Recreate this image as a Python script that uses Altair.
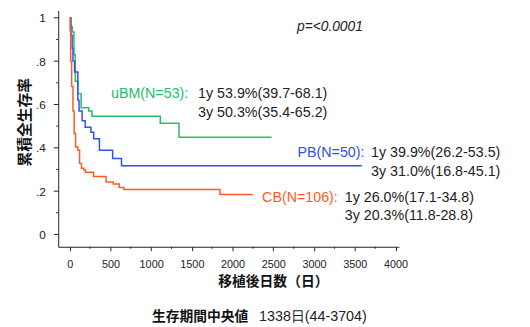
import altair as alt
import pandas as pd

# ---------------- data ----------------
groups = ["uBM", "PB", "CB"]
colors = ["#26bd6c", "#2f50f0", "#ff5a26"]

ubm_days = [0, 12, 31, 52, 68, 100, 140, 233, 273, 1112, 1342, 2479]
ubm_surv = [1.0, 0.96, 0.934, 0.83, 0.707, 0.65, 0.585, 0.57, 0.546, 0.513, 0.449, 0.449]

pb_days = [0, 15, 30, 40, 60, 100, 115, 152, 190, 260, 295, 365, 527, 636, 3586]
pb_surv = [1.0, 0.92, 0.86, 0.80, 0.75, 0.62, 0.57, 0.525, 0.495, 0.472, 0.442, 0.389, 0.351, 0.317, 0.317]

cb_days = [0, 5, 12, 24, 40, 55, 72, 100, 121, 145, 173, 193, 293, 447, 535, 608, 665, 1845, 2249]
cb_surv = [1.0, 0.94, 0.80, 0.684, 0.57, 0.466, 0.404, 0.389, 0.328, 0.305, 0.298, 0.287, 0.267,
           0.242, 0.233, 0.217, 0.207, 0.184, 0.184]

x_ticks = [0, 500, 1000, 1500, 2000, 2500, 3000, 3500, 4000]
x_minor = [250, 750, 1250, 1750, 2250, 2750, 3250, 3750]
y_ticks = [0, 0.2, 0.4, 0.6, 0.8, 1.0]
y_minor = [0.1, 0.3, 0.5, 0.7, 0.9]

group_labels = ["uBM(N=53):", "PB(N=50):", "CB(N=106):"]
year1_text = ["1y 53.9%(39.7-68.1)", "1y 39.9%(26.2-53.5)", "1y 26.0%(17.1-34.8)"]
year3_text = ["3y 50.3%(35.4-65.2)", "3y 31.0%(16.8-45.1)", "3y 20.3%(11.8-28.8)"]
p_text = ["p=<0.0001"]
caption_label = ["生存期間中央値"]
caption_value = ["1338日(44-3704)"]
x_title = "移植後日数（日）"
y_title = "累積全生存率"

# annotation anchors in data coordinates (day, survival)
label_end_day = [1456, 3619, 3292]
text_start_day = [1576, 3700, 3377]
line1_surv = [0.648, 0.375, 0.170]
line2_surv = [0.561, 0.290, 0.0855]
p_day = [3599]
p_surv = [0.957]

# ---------------- tables ----------------
rows = []
for g, ds, ss in zip(groups, [ubm_days, pb_days, cb_days], [ubm_surv, pb_surv, cb_surv]):
    for d, s in zip(ds, ss):
        rows.append({"group": g, "day": d, "surv": s})
df_lines = pd.DataFrame(rows)

df_labels = pd.DataFrame({"group": groups, "day": label_end_day, "surv": line1_surv, "text": group_labels})
df_y1 = pd.DataFrame({"group": groups, "day": text_start_day, "surv": line1_surv, "text": year1_text})
df_y3 = pd.DataFrame({"group": groups, "day": text_start_day, "surv": line2_surv, "text": year3_text})
df_p = pd.DataFrame({"day": p_day, "surv": p_surv, "text": p_text})
df_xminor = pd.DataFrame({"day": x_minor})
df_yminor = pd.DataFrame({"surv": y_minor})
df_cap1 = pd.DataFrame({"text": caption_label})
df_cap2 = pd.DataFrame({"text": caption_value})

# ---------------- chart ----------------
AX = "#222222"
LATIN = "Liberation Sans"
NARROW = "Liberation Sans Narrow, Arial Narrow, Liberation Sans"
CJK = "Noto Sans CJK JP"

x_scale = alt.Scale(domain=[-141, 4042], nice=False, zero=False)
y_scale = alt.Scale(domain=[-0.057, 1.034], nice=False, zero=False)
color_scale = alt.Scale(domain=groups, range=colors)

x_axis = alt.Axis(
    values=x_ticks, format="d", title=x_title, grid=False,
    titleFont=CJK, titleFontSize=14, titleFontWeight="bold", titleColor="#111",
    titleX=218, titleY=35, titleBaseline="middle", titleAlign="center",
    labelFont=NARROW, labelFontSize=11, labelColor="#222", labelPadding=8,
    tickSize=4, tickColor=AX, domainColor=AX, labelFlush=False,
)
y_axis = alt.Axis(
    values=y_ticks, title=y_title, grid=False,
    labelExpr="datum.value == 0 ? '0' : datum.value == 1 ? '1' : replace(format(datum.value, '.1f'), '0.', '.')",
    titleFont=CJK, titleFontSize=15, titleFontWeight="bold", titleColor="#111",
    titleAngle=270, titleX=-34, titleY=113, titleBaseline="middle", titleAlign="center",
    labelFont=LATIN, labelFontSize=12, labelColor="#222", labelPadding=8,
    tickSize=5, tickColor=AX, domainColor=AX, labelFlush=False,
)

lines = alt.Chart(df_lines).mark_line(interpolate="step-after", strokeWidth=1.5).encode(
    x=alt.X("day:Q", scale=x_scale, axis=x_axis),
    y=alt.Y("surv:Q", scale=y_scale, axis=y_axis),
    color=alt.Color("group:N", scale=color_scale, legend=None),
    detail="group:N",
)

xminor = alt.Chart(df_xminor).mark_rule(color=AX, strokeWidth=1).encode(
    x=alt.X("day:Q", scale=x_scale), y=alt.value(240), y2=alt.value(242)
)
yminor = alt.Chart(df_yminor).mark_rule(color=AX, strokeWidth=1).encode(
    y=alt.Y("surv:Q", scale=y_scale), x=alt.value(-2), x2=alt.value(0)
)

labels = alt.Chart(df_labels).mark_text(align="right", baseline="middle", font=LATIN, fontSize=14.5).encode(
    x=alt.X("day:Q", scale=x_scale), y=alt.Y("surv:Q", scale=y_scale), text="text:N",
    color=alt.Color("group:N", scale=color_scale, legend=None),
)
y1 = alt.Chart(df_y1).mark_text(align="left", baseline="middle", font=LATIN, fontSize=14.5, color="#222").encode(
    x=alt.X("day:Q", scale=x_scale), y=alt.Y("surv:Q", scale=y_scale), text="text:N"
)
y3 = alt.Chart(df_y3).mark_text(align="left", baseline="middle", font=LATIN, fontSize=14.5, color="#222").encode(
    x=alt.X("day:Q", scale=x_scale), y=alt.Y("surv:Q", scale=y_scale), text="text:N"
)
ptxt = alt.Chart(df_p).mark_text(align="right", baseline="middle", font=LATIN, fontSize=14,
                                 fontStyle="italic", color="#222").encode(
    x=alt.X("day:Q", scale=x_scale), y=alt.Y("surv:Q", scale=y_scale), text="text:N"
)
cap1 = alt.Chart(df_cap1).mark_text(align="right", baseline="middle", font=CJK, fontSize=14,
                                    fontWeight="bold", color="#111").encode(
    x=alt.value(193), y=alt.value(311), text="text:N"
)
cap2 = alt.Chart(df_cap2).mark_text(align="left", baseline="middle", font=LATIN, fontSize=14.5,
                                    color="#222").encode(
    x=alt.value(204), y=alt.value(311), text="text:N"
)

chart = alt.layer(lines, xminor, yminor, labels, y1, y3, ptxt, cap1, cap2).properties(
    width=346, height=240,
    autosize=alt.AutoSizeParams(type="none"),
    padding={"left": 51, "top": 0, "right": 125, "bottom": 79},
).configure_view(stroke=None)

chart.save("out.html", embed_options={"renderer": "svg", "actions": False})
